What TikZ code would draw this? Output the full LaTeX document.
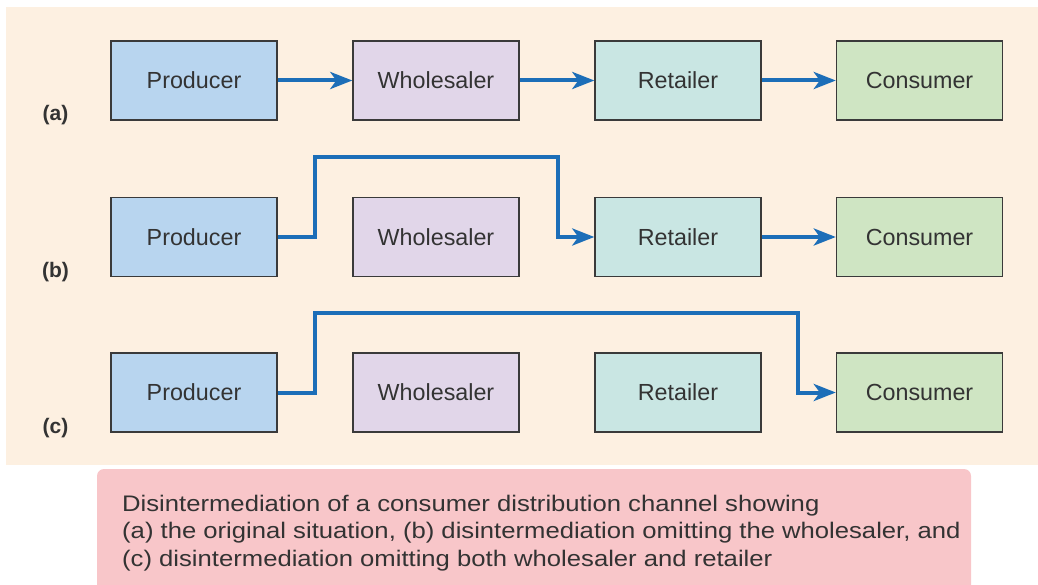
\documentclass[tikz,border=0pt]{standalone}
\usepackage{fontspec}
\setmainfont{Liberation Sans}
\newfontfamily\capfont[FakeStretch=1.14]{Liberation Sans}
\usetikzlibrary{arrows.meta}
\definecolor{bgpanel}{HTML}{FDF0E1}
\definecolor{capfill}{HTML}{F8C6C9}
\definecolor{prodfill}{HTML}{B8D5EF}
\definecolor{wholefill}{HTML}{E1D6E9}
\definecolor{retfill}{HTML}{C9E6E3}
\definecolor{consfill}{HTML}{CFE5C3}
\definecolor{boxline}{HTML}{3A3A3A}
\definecolor{txt}{HTML}{333333}
\definecolor{flowblue}{HTML}{1C6EB8}
\tikzset{
  stage/.style={draw=boxline, line width=1.4pt, minimum width=166pt, minimum height=79pt,
    inner sep=0pt, font=\fontsize{23.3}{27}\selectfont, text=txt},
  flow/.style={draw=flowblue, line width=4pt, line join=miter,
    -{Stealth[length=22pt,width=17pt,inset=6pt]}},
  rowlabel/.style={font=\fontsize{21}{24}\selectfont\bfseries, text=txt, anchor=base}
}
\begin{document}
\begin{tikzpicture}[x=1pt,y=-1pt]
\useasboundingbox (0,0) rectangle (1038,585);
% panel and caption background
\fill[bgpanel] (6,7) rectangle (1038,465);
\fill[capfill, rounded corners=7pt] (97,469) rectangle (971,600);
\clip (0,0) rectangle (1038,585);

% row (a)
\node[stage, fill=prodfill]  (Pa) at (194,80.5)   {Producer};
\node[stage, fill=wholefill] (Wa) at (436,80.5)   {Wholesaler};
\node[stage, fill=retfill]   (Ra) at (678,80.5)   {Retailer};
\node[stage, fill=consfill]  (Ca) at (919.5,80.5) {Consumer};
% row (b)
\node[stage, fill=prodfill]  (Pb) at (194,237)   {Producer};
\node[stage, fill=wholefill] (Wb) at (436,237)   {Wholesaler};
\node[stage, fill=retfill]   (Rb) at (678,237)   {Retailer};
\node[stage, fill=consfill]  (Cb) at (919.5,237) {Consumer};
% row (c)
\node[stage, fill=prodfill]  (Pc) at (194,392.5)   {Producer};
\node[stage, fill=wholefill] (Wc) at (436,392.5)   {Wholesaler};
\node[stage, fill=retfill]   (Rc) at (678,392.5)   {Retailer};
\node[stage, fill=consfill]  (Cc) at (919.5,392.5) {Consumer};

\node[rowlabel] (la) at (55.5,121) {(a)};
\node[rowlabel] (lb) at (55.5,277) {(b)};
\node[rowlabel] (lc) at (55.5,433) {(c)};

% (a) full chain
\draw[flow] (Pa.east) -- (Wa.west);
\draw[flow] (Wa.east) -- (Ra.west);
\draw[flow] (Ra.east) -- (Ca.west);
% (b) wholesaler bypassed
\coordinate (b1) at (315,157);
\coordinate (b2) at (558,237);
\draw[flow] (Pb.east) -| (b1) -| (b2) -- (Rb.west);
\draw[flow] (Rb.east) -- (Cb.west);
% (c) wholesaler and retailer bypassed
\coordinate (c1) at (315,313);
\coordinate (c2) at (798,392.5);
\draw[flow] (Pc.east) -| (c1) -| (c2) -- (Cc.west);

% caption (anchored on the baseline of its last line)
\node[anchor=base west, align=left, inner sep=0pt, text=txt,
      font=\capfont\fontsize{22.5}{27.7}\selectfont] (cap) at (122,566.5)
  {Disintermediation of a consumer distribution channel showing\\
   (a) the original situation, (b) disintermediation omitting the wholesaler, and\\
   (c) disintermediation omitting both wholesaler and retailer};
\end{tikzpicture}
\end{document}
